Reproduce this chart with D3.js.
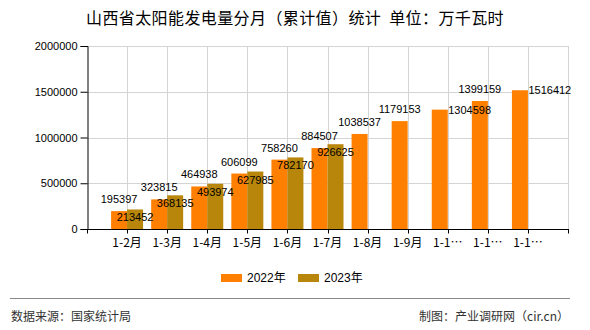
<!DOCTYPE html>
<html><head><meta charset="utf-8">
<script src="https://cdn.jsdelivr.net/npm/d3@7"></script>
<style>body{margin:0;background:#fff;} svg{display:block;}</style>
</head><body>
<svg id="c" width="590" height="330"></svg>
<script>
const categories = ["1-2月","1-3月","1-4月","1-5月","1-6月","1-7月","1-8月","1-9月","1-10月","1-11月","1-12月"];
const values2022 = [195397,323815,464938,606099,758260,884507,1038537,1179153,1304598,1399159,1516412];
const values2023 = [213452,368135,493974,627985,782170,926625,null,null,null,null,null];
const seriesNames = ["2022年","2023年"];
const yTicks = [0,500000,1000000,1500000,2000000];
const label2022Place = ["top","top","top","top","top","top","top","top","right","top","right"];

const svg = d3.select("#c");
const L=87, R=568, T=46, B=229;
const numFont = "'Liberation Sans', Arial, sans-serif";
const cjkFont = "'Noto Sans CJK SC', sans-serif";
const c2022="#FF8000", c2023="#B8860B";

const x = d3.scalePoint().domain(categories).range([L,R]).padding(1);
const y = d3.scaleLinear().domain([0,2000000]).range([B,T]);
const bw = 16;

// grid
const g = svg.append("g");
g.selectAll(".hg").data(yTicks.filter(d=>d>0)).enter().append("line")
 .attr("x1",L).attr("x2",R).attr("y1",d=>Math.round(y(d))+0.5).attr("y2",d=>Math.round(y(d))+0.5)
 .attr("stroke","#d4d4d4").attr("stroke-width",1);
const vpos = categories.map(c=>x(c)).concat([R]);
g.selectAll(".vg").data(vpos).enter().append("line")
 .attr("x1",d=>Math.round(d)+0.5).attr("x2",d=>Math.round(d)+0.5).attr("y1",T).attr("y2",B)
 .attr("stroke","#d4d4d4").attr("stroke-width",1);

// bars
svg.append("g").selectAll("rect").data(categories).enter().append("rect")
 .attr("x",c=>x(c)-bw).attr("width",bw)
 .attr("y",(c,i)=>y(values2022[i])).attr("height",(c,i)=>B-y(values2022[i]))
 .attr("fill",c2022);
svg.append("g").selectAll("rect").data(categories.filter((c,i)=>values2023[i]!=null)).enter().append("rect")
 .attr("x",c=>x(c)).attr("width",bw)
 .attr("y",(c,i)=>y(values2023[i])).attr("height",(c,i)=>B-y(values2023[i]))
 .attr("fill",c2023);

// axes
const ya = d3.axisLeft(y).tickValues(yTicks).tickSize(7).tickPadding(3).tickFormat(d=>String(d));
const yg = svg.append("g").attr("transform",`translate(${L+0.5},0)`).call(ya);
yg.select(".domain").attr("stroke","#000");
yg.selectAll("line").attr("stroke","#000");
yg.selectAll("text").attr("font-family",numFont).attr("font-size","11px").attr("fill","#000");

const xg = svg.append("g").attr("transform",`translate(0,${B+0.5})`);
xg.append("line").attr("x1",L).attr("x2",R+1).attr("y1",0).attr("y2",0).attr("stroke","#000");
xg.selectAll(".tk").data([L].concat(vpos)).enter().append("line")
 .attr("x1",d=>Math.round(d)+0.5).attr("x2",d=>Math.round(d)+0.5).attr("y1",0).attr("y2",4).attr("stroke","#000");
xg.selectAll("text").data(categories).enter().append("text")
 .attr("x",c=>x(c)).attr("y",17).attr("text-anchor","middle")
 .attr("font-family",cjkFont).attr("font-size","12px").attr("fill","#000")
 .text(c=>c.length>4 ? c.slice(0,3)+"…" : c);

// value labels
svg.append("g").selectAll("text").data(categories).enter().append("text")
 .attr("x",(c,i)=>label2022Place[i]==="right" ? x(c)+0.5 : x(c)-bw/2)
 .attr("y",(c,i)=>label2022Place[i]==="right" ? y(values2022[i])+4 : y(values2022[i])-8)
 .attr("text-anchor",(c,i)=>label2022Place[i]==="right" ? "start" : "middle")
 .attr("font-family",numFont).attr("font-size","11px").attr("fill","#000")
 .text((c,i)=>values2022[i]);
svg.append("g").selectAll("text").data(categories.filter((c,i)=>values2023[i]!=null)).enter().append("text")
 .attr("x",c=>x(c)+bw/2).attr("y",(c,i)=>y(values2023[i])+12)
 .attr("text-anchor","middle")
 .attr("font-family",numFont).attr("font-size","11px").attr("fill","#000")
 .text((c,i)=>values2023[i]);

// title
svg.append("text").attr("x",295).attr("y",24).attr("text-anchor","middle")
 .attr("font-family",cjkFont).attr("font-size","16px").attr("fill","#000")
 .attr("letter-spacing","0.4px").attr("xml:space","preserve")
 .text("山西省太阳能发电量分月（累计值）统计  单位：万千瓦时");

// legend
const lg = svg.append("g");
const lx=[221,298];
[c2022,c2023].forEach((col,i)=>{
  lg.append("rect").attr("x",lx[i]).attr("y",274).attr("width",21).attr("height",8).attr("fill",col);
  lg.append("text").attr("x",lx[i]+26).attr("y",282).attr("font-family",numFont+","+cjkFont)
    .attr("font-size","12px").attr("fill","#000").text(seriesNames[i]);
});

// footer
svg.append("line").attr("x1",10).attr("x2",570).attr("y1",298.5).attr("y2",298.5).attr("stroke","#888").attr("stroke-width",1);
svg.append("text").attr("x",11).attr("y",321).attr("font-family",cjkFont).attr("font-size","12px").attr("fill","#333")
 .text("数据来源：国家统计局");
svg.append("text").attr("x",569).attr("y",321).attr("text-anchor","end").attr("font-family",cjkFont).attr("font-size","12px").attr("fill","#333")
 .text("制图：产业调研网（cir.cn）");
</script>
</body></html>
